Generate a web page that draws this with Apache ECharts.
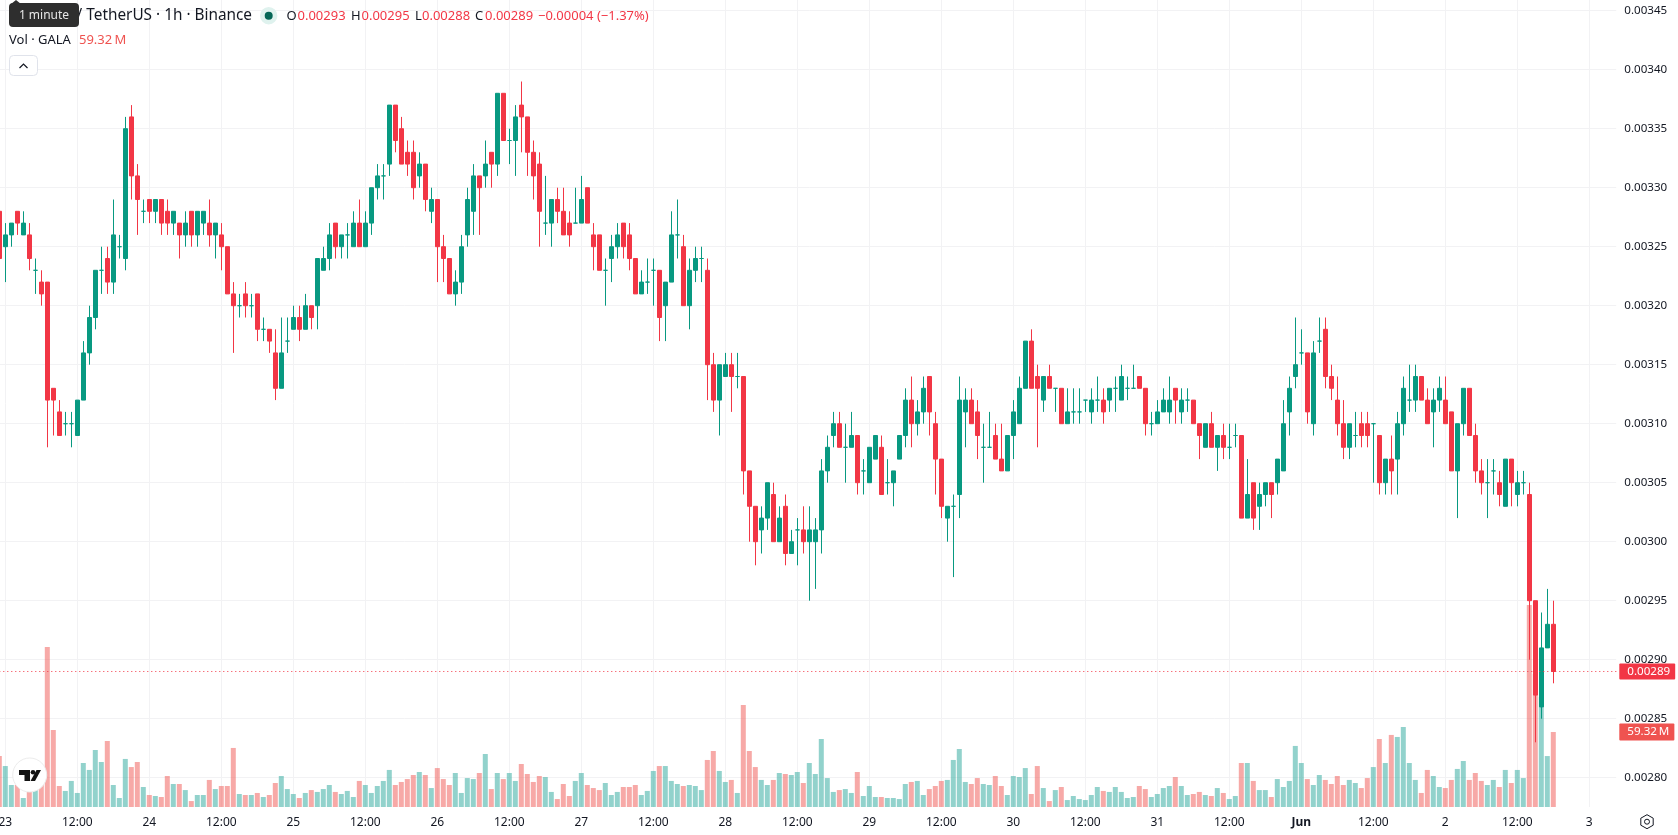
<!DOCTYPE html>
<html>
<head>
<meta charset="utf-8">
<title>GALA / TetherUS 1h</title>
<script src="https://cdn.jsdelivr.net/npm/echarts@6/dist/echarts.min.js"></script>
<style>
html,body{margin:0;padding:0;background:#fff}
#chart{width:1678px;height:835px}
</style>
</head>
<body>
<div id="chart"></div>
<script>
// Hourly candles, prices in units of 0.00001 USDT
const opens = [328,325,326,328,326,326,323,322,322,313,311,310,310,309,312,316,319,323,324,322,325,324,336,331,328,329,328,329,328,327,
327,326,328,326,327,327,326,326,325,321,320,321,320,321,318,318,316,313,317,318,319,318,320,320,323,324,327,325,326,325,
327,325,327,330,331,332,337,335,333,333,331,332,328,329,325,324,321,322,326,328,331,331,333,332,338,334,334,337,336,333,
332,327,327,329,328,327,327,327,330,326,326,323,324,325,327,326,324,321,322,323,323,320,322,326,325,320,323,324,323,315,
312,314,315,314,314,306,303,301,302,304,300,303,299,301,301,300,300,301,306,309,310,308,308,309,306,305,307,308,305,305,
307,309,312,310,311,314,310,307,302,303,304,311,312,311,308,308,309,307,306,309,310,313,317,314,312,314,313,313,310,311,
311,312,311,312,312,312,313,312,313,313,314,313,310,310,311,311,313,311,312,312,310,308,310,308,309,308,309,309,302,305,
303,304,305,305,306,311,314,316,316,310,317,318,314,312,310,308,309,310,310,310,309,305,307,307,310,312,312,314,312,311,
312,312,311,306,310,313,309,306,305,306,305,303,307,304,305,304,295,286,291,293];
const closes = [324,326,327,327,327,324,323,321,312,312,309,310,310,312,316,319,323,323,322,326,325,335,331,329,328,328,329,327,327,328,
326,327,326,328,328,326,327,325,321,320,320,320,320,318,318,317,313,316,317,319,318,320,319,324,324,326,325,326,326,327,
325,327,330,331,331,337,334,332,332,330,332,329,329,325,324,321,322,325,329,331,330,332,332,338,334,334,336,336,333,331,
328,327,329,328,326,326,327,329,327,325,323,323,325,326,325,324,321,322,322,323,319,322,326,326,320,323,324,324,315,312,
315,315,314,314,306,303,300,302,305,300,302,299,300,301,300,301,301,306,308,310,308,308,309,305,306,308,309,304,305,306,
309,312,310,311,313,311,307,303,303,303,312,312,310,309,308,308,307,306,309,311,313,317,313,313,314,313,313,310,311,311,
311,312,312,312,311,313,313,314,313,313,313,310,310,311,312,312,312,312,312,310,309,310,308,309,308,308,309,302,304,302,
304,305,304,307,310,313,315,316,311,316,317,314,313,310,308,310,309,309,309,310,305,307,306,310,313,312,314,312,310,312,
313,310,306,310,313,309,306,305,305,306,304,307,305,305,305,295,287,291,293,289];
const highs = [328,327,327,328,328,327,324,323,322,313,312,311,311,312,317,320,323,325,325,329,326,336,337,332,329,329,329,329,329,328,
327,328,328,328,328,329,327,327,325,322,321,322,321,321,319,318,318,319,319,320,320,321,320,324,325,327,327,326,327,328,
329,328,330,332,332,337,337,336,334,334,333,332,330,329,326,324,323,326,330,332,331,334,333,338,338,335,337,339,336,334,
333,331,329,330,330,328,330,331,330,327,326,324,326,327,327,327,324,323,324,324,323,322,328,329,326,324,325,325,324,316,
315,316,316,316,314,306,303,303,305,305,303,304,301,302,303,303,302,307,309,311,311,310,311,309,307,308,309,309,307,306,
309,313,314,312,314,314,311,307,303,304,314,313,313,312,310,311,310,310,309,312,314,317,318,315,314,315,313,313,313,313,
313,312,313,314,313,313,314,315,314,315,314,313,311,312,313,314,313,313,313,312,310,310,311,309,310,310,310,309,307,305,
305,305,305,307,312,314,319,318,316,317,319,319,315,314,312,310,311,311,311,310,309,307,309,311,314,315,315,314,313,313,
314,314,311,310,313,313,310,307,307,307,306,307,307,306,306,305,295,294,296,295];
const lows = [324,322,325,326,326,323,321,320,308,309,309,309,308,309,312,315,318,321,321,321,324,323,329,326,327,327,327,326,326,326,
324,325,325,325,326,325,324,323,321,316,319,319,319,317,317,316,312,313,316,318,317,318,318,318,323,323,324,324,324,325,
325,325,326,329,329,331,333,332,331,329,330,328,327,322,322,321,320,321,325,326,326,330,330,331,334,332,331,333,331,329,
325,326,325,327,326,325,327,327,327,323,323,320,322,324,324,323,321,321,321,320,317,317,322,324,320,318,322,322,312,311,
309,314,311,313,304,300,298,299,301,300,300,298,299,298,299,295,296,299,305,308,308,305,308,304,304,305,307,304,304,303,
307,308,308,309,310,309,304,302,300,297,302,308,310,307,305,308,307,306,306,307,310,313,313,308,311,313,311,310,310,310,
310,311,310,311,310,311,311,312,312,313,313,309,309,310,311,310,310,310,311,310,307,308,308,306,307,307,308,302,302,301,
301,303,302,304,306,309,313,315,310,309,316,313,312,309,307,307,308,308,308,305,304,304,304,304,309,311,311,312,310,308,
311,310,306,302,309,309,305,304,302,304,303,303,303,303,304,290,283,285,291,288];
// Hourly traded volume in millions of GALA
const volumes = [40.3,32.4,17.4,17.4,7.1,11.9,13.4,22.1,126.6,60.9,16.6,12.7,20.6,11.1,34.8,29.3,45.1,35.6,52.2,17.4,7.1,38.0,31.6,35.6,15.8,9.5,8.7,7.9,24.5,18.2,
18.2,13.4,4.7,9.5,9.5,21.4,14.2,16.6,16.6,46.7,10.3,9.5,9.5,11.1,7.9,9.5,19.0,24.5,14.2,10.3,7.1,11.1,13.4,11.9,14.2,17.4,11.9,10.3,12.7,7.9,
20.6,17.4,11.1,16.6,20.6,29.3,17.4,19.8,22.1,25.3,27.7,25.3,15.0,30.8,22.1,17.4,26.9,11.1,22.9,22.1,26.9,41.9,14.2,26.9,22.1,26.9,20.6,34.0,26.1,19.8,
24.5,23.7,11.9,6.3,18.2,8.7,20.6,26.9,17.4,15.0,13.4,19.0,9.5,11.9,15.8,15.8,17.4,9.5,12.7,28.5,32.4,32.4,20.6,18.2,16.6,17.4,16.6,13.4,37.2,44.3,
28.5,19.8,21.4,11.1,80.7,44.3,31.6,21.4,17.4,21.4,26.9,26.1,25.3,27.7,19.0,34.8,26.1,53.8,22.9,11.9,13.4,14.2,11.1,27.7,8.7,16.6,7.9,7.9,7.1,7.1,
6.3,18.2,19.8,20.6,9.5,14.2,16.6,20.6,21.4,37.2,45.9,19.8,18.2,22.9,18.2,17.4,24.5,16.6,9.5,24.5,23.7,30.8,10.3,32.4,15.0,4.7,13.4,15.8,5.5,8.7,
6.3,5.5,9.5,15.8,12.7,11.9,15.8,11.9,7.1,7.9,16.6,14.2,7.9,10.3,15.0,16.6,23.7,16.6,9.5,10.3,11.9,9.5,8.7,15.0,11.1,6.3,8.7,34.8,34.8,20.6,
13.4,13.4,7.9,22.1,15.8,20.6,48.3,34.8,22.1,17.4,25.3,21.4,18.2,24.5,17.4,21.4,19.0,15.0,22.9,31.6,53.8,34.8,57.0,55.4,63.3,34.8,21.4,11.1,29.3,24.5,
15.8,15.0,21.4,30.1,36.4,21.4,26.9,20.6,17.4,21.4,15.8,29.3,19.0,29.3,22.9,159.8,105.2,87.0,40.3,59.32];

// Tick settings for the price scale
const priceUnit = 0.00001;
const priceMin = 0.0028;
const priceMax = 0.00345;
const priceStep = 0.00005;
const lastPrice = 0.00289;
const lastVolume = 59.32;
const barCount = 271;

const UP = '#089981';
const DOWN = '#F23645';
const VOL_UP = 'rgba(38,166,154,0.5)';
const VOL_DOWN = 'rgba(239,83,80,0.5)';
const GRID = '#f2f2f4';
const INK = '#131722';
const FONT = '"Noto Sans", sans-serif';

// One category per hour, first one is 22 May 23:00
const categories = [];
const startMs = Date.UTC(2024, 4, 22, 23);
for (let i = 0; i < barCount; i++) {
  const d = new Date(startMs + i * 3600000);
  categories.push(d.toISOString().slice(5, 16).replace('T', ' '));
}

const toPrice = n => Number((n * priceUnit).toFixed(5));
const candles = opens.map((o, i) => [toPrice(o), toPrice(closes[i]), toPrice(lows[i]), toPrice(highs[i])]);
const volumeBars = volumes.map((v, i) => ({
  value: v,
  itemStyle: { color: closes[i] < opens[i] ? VOL_DOWN : VOL_UP }
}));
// Level lines that end in a tag on the price scale
const priceLevel = categories.map(() => lastPrice);
const volumeLevel = categories.map(() => lastVolume);

const isTick = i => (i - 1) % 12 === 0;
function formatTime(value) {
  const [date, time] = value.split(' ');
  const [month, day] = date.split('-');
  if (time === '12:00') return '12:00';
  if (month === '06' && day === '01') return '{month|Jun}';
  return String(Number(day));
}

const label = (text, x, y, fill, size, extra) => ({
  type: 'text', z: 50, silent: true,
  style: Object.assign({
    text, x, y, fill, font: `${size}px ${FONT}`, textVerticalAlign: 'middle'
  }, extra || {})
});

const headerOHLC = [
  ['O', 286.5, INK], ['0.00293', 297.5, DOWN],
  ['H', 351, INK], ['0.00295', 361.5, DOWN],
  ['L', 415, INK], ['0.00288', 422, DOWN],
  ['C', 475, INK], ['0.00289', 485, DOWN],
  ['\u22120.00004 (\u22121.37%)', 538, DOWN]
];

const option = {
  animation: false,
  backgroundColor: '#ffffff',
  textStyle: { fontFamily: FONT },
  grid: [
    { left: -0.7, top: 10.7, width: 1620, height: 767, containLabel: false, outerBoundsMode: 'none' },
    { left: -0.7, top: 0, width: 1620, height: 807, containLabel: false, outerBoundsMode: 'none' }
  ],
  xAxis: [
    { type: 'category', gridIndex: 0, data: categories, boundaryGap: false, containShape: false, show: false },
    {
      type: 'category', gridIndex: 1, data: categories, boundaryGap: false, containShape: false,
      axisLine: { show: false }, axisTick: { show: false },
      splitLine: { show: true, interval: isTick, lineStyle: { color: GRID, width: 1 } },
      axisLabel: {
        interval: isTick, formatter: formatTime, color: INK, fontSize: 12,
        fontFamily: FONT, margin: 10, hideOverlap: false,
        rich: { month: { fontWeight: 'bold', fontSize: 12, color: INK, fontFamily: FONT } }
      }
    }
  ],
  yAxis: [
    {
      type: 'value', gridIndex: 0, position: 'right',
      min: priceMin, max: priceMax, interval: priceStep,
      axisLine: { show: true, onZero: false, lineStyle: { color: '#ffffff', width: 6.6 } },
      axisTick: { show: false },
      splitLine: { show: true, lineStyle: { color: GRID, width: 1 } },
      axisLabel: {
        color: INK, fontSize: 11.6, fontFamily: FONT, margin: 5,
        formatter: v => v.toFixed(5)
      }
    },
    { type: 'value', gridIndex: 1, min: 0, max: 638.3, show: false }
  ],
  series: [
    {
      name: 'Vol', type: 'bar', xAxisIndex: 1, yAxisIndex: 1,
      data: volumeBars, barWidth: 5, z: 2
    },
    {
      name: 'GALAUSDT', type: 'candlestick', xAxisIndex: 0, yAxisIndex: 0,
      data: candles, barWidth: 4, z: 3,
      itemStyle: {
        color: UP, color0: DOWN, borderColor: UP, borderColor0: DOWN,
        borderColorDoji: UP, borderWidth: 1
      }
    },
    {
      name: 'Vol level', type: 'line', xAxisIndex: 1, yAxisIndex: 1,
      data: volumeLevel, showSymbol: false, silent: true, z: 9,
      lineStyle: { opacity: 0 },
      endLabel: {
        show: true, offset: [-8, 0], color: '#fff', fontSize: 11.6, fontFamily: FONT,
        backgroundColor: '#EF5350', padding: [2.5, 5, 2.5, 8], borderRadius: 1,
        formatter: () => lastVolume.toFixed(2) + '\u202fM'
      }
    },
    {
      name: 'Last price', type: 'line', xAxisIndex: 0, yAxisIndex: 0,
      data: priceLevel, showSymbol: false, silent: true, z: 10,
      lineStyle: { color: DOWN, type: [1, 3], width: 1 },
      endLabel: {
        show: true, offset: [-8, 0], color: '#fff', fontSize: 11.6, fontFamily: FONT,
        backgroundColor: DOWN, padding: [2, 5, 2, 8], borderRadius: 1,
        formatter: () => lastPrice.toFixed(5)
      }
    }
  ],
  graphic: [
    // legend lines
    label('GALA / TetherUS \u00b7 1h \u00b7 Binance', 252, 16, INK, 15.35, { textAlign: 'right' }),
    { type: 'circle', z: 50, silent: true, shape: { cx: 268.7, cy: 15.7, r: 8.7 }, style: { fill: '#dff2ee' } },
    { type: 'circle', z: 51, silent: true, shape: { cx: 268.7, cy: 15.7, r: 4 }, style: { fill: '#056656' } },
    ...headerOHLC.map(([t, x, c]) => label(t, x, 16, c, 13)),
    label('Vol \u00b7 GALA', 9, 40.5, INK, 13),
    label('59.32\u202fM', 79, 40.5, '#EF5350', 13),
    // collapse button
    { type: 'rect', z: 50, silent: true, shape: { x: 9.5, y: 55.5, width: 28, height: 20, r: 4 }, style: { fill: '#fff', stroke: '#e0e3eb', lineWidth: 1 } },
    { type: 'polyline', z: 51, silent: true, shape: { points: [[19.5, 68], [23.5, 64], [27.5, 68]] }, style: { fill: 'none', stroke: INK, lineWidth: 1.2 } },
    // hover hint over the symbol name
    { type: 'polygon', z: 60, silent: true, shape: { points: [[11, 4], [16, 0], [21, 4]] }, style: { fill: '#2e2e2e' } },
    { type: 'rect', z: 60, silent: true, shape: { x: 9, y: 3, width: 70, height: 24, r: 4 }, style: { fill: '#2e2e2e' } },
    { type: 'text', z: 61, silent: true, style: { text: '1 minute', x: 44, y: 15.5, fill: '#e6e6e6', font: `12px ${FONT}`, textAlign: 'center', textVerticalAlign: 'middle' } },
    // attribution badge
    { type: 'circle', z: 60, silent: true, shape: { cx: 29.7, cy: 775, r: 17 }, style: { fill: '#fff', stroke: '#ececec', lineWidth: 1 } },
    { type: 'polygon', z: 61, silent: true, shape: { points: [[19, 770], [30, 770], [30, 781], [24.5, 781], [24.5, 775], [19, 775]] }, style: { fill: '#131313' } },
    { type: 'circle', z: 61, silent: true, shape: { cx: 33, cy: 772.3, r: 2.3 }, style: { fill: '#131313' } },
    { type: 'polygon', z: 61, silent: true, shape: { points: [[36.5, 770], [41, 770], [35, 781], [30.5, 781]] }, style: { fill: '#131313' } },
    // scale settings icon
    { type: 'polygon', z: 50, silent: true, shape: { points: [[1647, 814.7], [1653.2, 818.2], [1653.2, 825.2], [1647, 828.7], [1640.8, 825.2], [1640.8, 818.2]] }, style: { fill: 'none', stroke: INK, lineWidth: 1 } },
    { type: 'circle', z: 50, silent: true, shape: { cx: 1647, cy: 821.7, r: 2.5 }, style: { fill: 'none', stroke: INK, lineWidth: 1 } }
  ]
};

const chart = echarts.init(document.getElementById('chart'), null, { renderer: 'canvas' });
chart.setOption(option);
</script>
</body>
</html>
